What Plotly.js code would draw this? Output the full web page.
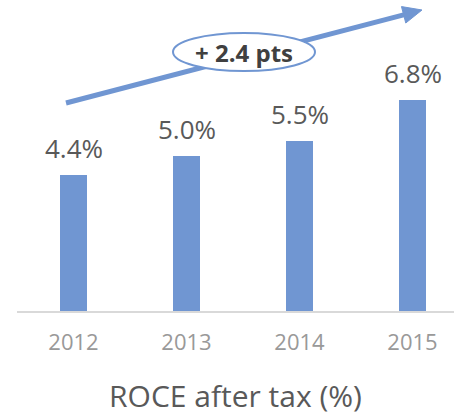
<!DOCTYPE html>
<html>
<head>
<meta charset="utf-8">
<script src="https://cdn.plot.ly/plotly-3.0.1.min.js"></script>
<style>html,body{margin:0;padding:0;background:#fff;}#chart{width:454px;height:416px;}</style>
</head>
<body>
<div id="chart"></div>
<script>
// Data
var years = ['2012', '2013', '2014', '2015'];
var roce = [4.4, 5.0, 5.5, 6.8];
var labels = ['4.4%', '5.0%', '5.5%', '6.8%'];
var changeLabel = '+ 2.4 pts';
var chartTitle = 'ROCE after tax (%)';

var W = 454, H = 416;
var M = {l: 17, r: 0, t: 0, b: 105};
var pw = W - M.l - M.r, ph = H - M.t - M.b;
function px(x) { return (x - M.l) / pw; }
function py(y) { return (H - M.b - y) / ph; }

var blue = '#7096d2';

// arrow geometry (decoration, in pixels)
var tail = [66, 103], tip = [422, 10];
var dx = tip[0] - tail[0], dy = tip[1] - tail[1];
var len = Math.sqrt(dx * dx + dy * dy);
var ux = dx / len, uy = dy / len, nx = -uy, ny = ux;
var hl = 19, hw = 8.5;
var base = [tip[0] - hl * ux, tip[1] - hl * uy];
var c1 = [base[0] + hw * nx, base[1] + hw * ny];
var c2 = [base[0] - hw * nx, base[1] - hw * ny];
function P(p) { return px(p[0]).toFixed(5) + ',' + py(p[1]).toFixed(5); }

var ell = {cx: 244, cy: 52, rx: 71, ry: 19};

var trace = {
  type: 'bar',
  x: years,
  y: roce,
  marker: {color: blue},
  width: 0.24,
  hoverinfo: 'none'
};

var annotations = years.map(function (yr, i) {
  return {
    x: i, y: roce[i], xref: 'x', yref: 'y',
    text: labels[i], showarrow: false,
    xanchor: 'center', yanchor: 'middle', yshift: 27,
    font: {family: 'Open Sans', size: 26, color: '#595959'}
  };
});
annotations.push({
  x: px(ell.cx), y: py(ell.cy), xref: 'paper', yref: 'paper',
  text: '<b>' + changeLabel + '</b>', showarrow: false,
  xanchor: 'center', yanchor: 'middle',
  font: {family: 'Open Sans', size: 24, color: '#404040'}
});

var layout = {
  width: W, height: H,
  margin: M,
  paper_bgcolor: '#fff', plot_bgcolor: '#fff',
  showlegend: false,
  bargap: 0,
  xaxis: {
    type: 'category',
    range: [-0.5, -0.5 + pw / 113],
    showline: true, linecolor: '#d9d9d9', linewidth: 2,
    showgrid: false, zeroline: false, ticks: '',
    tickfont: {family: 'Open Sans', size: 22, color: '#999999'},
    ticklabelstandoff: 11,
    title: {text: chartTitle, font: {family: 'Open Sans', size: 30, color: '#595959'}, standoff: 31},
    fixedrange: true
  },
  yaxis: {
    range: [0, ph / 31],
    visible: false, showgrid: false, zeroline: false, fixedrange: true
  },
  shapes: [
    {type: 'line', xref: 'paper', yref: 'paper', layer: 'above',
     x0: px(tail[0]), y0: py(tail[1]), x1: px(base[0] + 1 * ux), y1: py(base[1] + 1 * uy),
     line: {color: blue, width: 5}},
    {type: 'path', xref: 'paper', yref: 'paper', layer: 'above',
     path: 'M' + P(tip) + ' L' + P(c1) + ' L' + P(c2) + ' Z',
     fillcolor: blue, line: {color: blue, width: 1}},
    {type: 'circle', xref: 'paper', yref: 'paper', layer: 'above',
     x0: px(ell.cx - ell.rx), x1: px(ell.cx + ell.rx),
     y0: py(ell.cy + ell.ry), y1: py(ell.cy - ell.ry),
     fillcolor: '#ffffff', line: {color: blue, width: 2}}
  ],
  annotations: annotations
};

Plotly.newPlot('chart', [trace], layout, {displayModeBar: false, staticPlot: true});
</script>
</body>
</html>
